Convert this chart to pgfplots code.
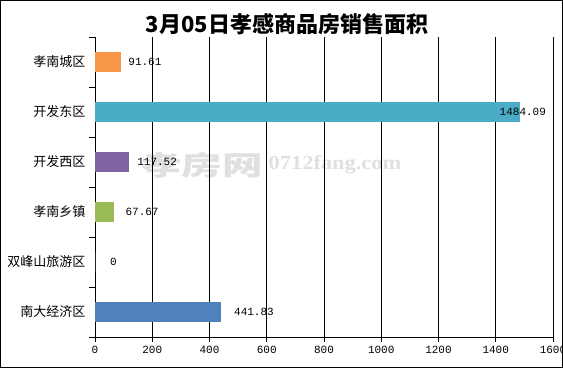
\documentclass[border=0pt]{standalone}
\usepackage{fontspec}
\setmainfont{Noto Sans CJK SC}
\newfontfamily\numfont{Liberation Mono}
\newfontfamily\wmfont{Liberation Serif}
\usepackage{pgfplots}
\pgfplotsset{compat=1.18}
\definecolor{cOrange}{HTML}{F79646}
\definecolor{cTeal}{HTML}{4BACC6}
\definecolor{cPurple}{HTML}{8064A2}
\definecolor{cGreen}{HTML}{9BBB59}
\definecolor{cBlue}{HTML}{4F81BD}
\begin{document}
\begin{tikzpicture}[x=1pt,y=1pt]
\useasboundingbox (0,0) rectangle (563,368);
\fill[white] (0,0) rectangle (563,368);
\node[font=\bfseries\fontsize{22}{22}\selectfont] at (287,344) {3月05日孝感商品房销售面积};
\node[font=\bfseries\fontsize{27}{27}\selectfont, text=black!12, xscale=1.5] at (202,203) {孝房网};
\node[font=\wmfont\bfseries\fontsize{20}{20}\selectfont, text=black!12, xscale=1.12] at (335,203) {0712fang.com};
\begin{axis}[
  at={(95pt,31pt)}, anchor=south west,
  scale only axis, width=458pt, height=300pt,
  xmin=0, xmax=1600, ymin=-0.5, ymax=5.5,
  y dir=reverse,
  axis x line*=bottom, axis y line*=left,
  axis line style={black, line width=0.8pt},
  xtick={0,200,...,1600},
  xmajorgrids, major grid style={black, line width=0.6pt},
  tick align=outside,
  major tick length=5pt,
  tick style={black, line width=0.8pt},
  ytick={0,...,5},
  yticklabels={孝南城区,开发东区,开发西区,孝南乡镇,双峰山旅游区,南大经济区},
  y tick style={draw=none},
  extra y ticks={-0.5,0.5,1.5,2.5,3.5,4.5,5.5},
  extra y tick labels={},
  extra y tick style={y tick style={draw=black}, major tick length=6pt, grid=none},
  /pgf/number format/assume math mode=true,
  /pgf/number format/1000 sep={},
  yticklabel style={font=\fontsize{13}{13}\selectfont, text=black, xshift=-1pt},
  xticklabel style={font=\numfont\fontsize{11}{11}\selectfont, text=black, yshift=-1pt},
  xbar, bar width=20pt, bar shift=0pt,
  nodes near coords,
  nodes near coords style={font=\numfont\fontsize{11}{11}\selectfont, text=black, anchor=west, inner xsep=0pt, /pgf/number format/fixed, /pgf/number format/precision=2, /pgf/number format/assume math mode=true},
  clip=false,
]
\addplot[fill=cOrange, draw=none, nodes near coords style={xshift=7pt}] coordinates {(91.61,0)};
\addplot[fill=cTeal, draw=none, nodes near coords={}] coordinates {(1484.09,1)};
\addplot[fill=cPurple, draw=none, nodes near coords style={xshift=8.5pt}] coordinates {(117.52,2)};
\addplot[fill=cGreen, draw=none, nodes near coords style={xshift=11pt}] coordinates {(67.67,3)};
\addplot[fill=cBlue!0, draw=none, nodes near coords style={xshift=15pt}] coordinates {(0,4)};
\addplot[fill=cBlue, draw=none, nodes near coords style={xshift=12.5pt}] coordinates {(441.83,5)};
\node[font=\numfont\fontsize{11}{11}\selectfont, anchor=center, xshift=3pt] at (axis cs:1484.09,1) {1484.09};
\end{axis}
\draw[black, line width=1pt] (0.5,0.5) rectangle (562.5,367.5);
\end{tikzpicture}
\end{document}
